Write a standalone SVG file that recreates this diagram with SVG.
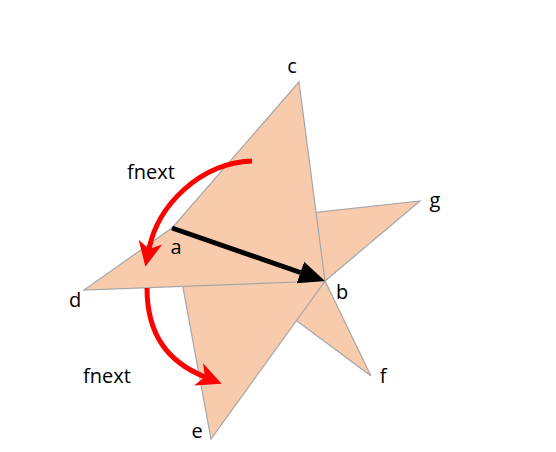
<svg xmlns="http://www.w3.org/2000/svg" width="556" height="452" viewBox="0 0 556 452">
<style>
.face{fill:#F8CBAD;stroke:#A6A6A6;stroke-width:1.2;stroke-linejoin:miter}
.lbl{font-family:"Open Sans","Liberation Sans",Arial,sans-serif;font-size:20px;fill:#000;text-anchor:middle}
.red{fill:none;stroke:#FF0000;stroke-width:5}
</style>
<defs>
<marker id="redhead" viewBox="0 0 26 26" refX="7" refY="13" markerWidth="26" markerHeight="26" markerUnits="userSpaceOnUse" orient="auto">
<path d="M0,1 L25,13 L0,25 L7,13 Z" fill="#FF0000"/>
</marker>
<marker id="blackhead" viewBox="0 0 26 24" refX="0" refY="12" markerWidth="26" markerHeight="24" markerUnits="userSpaceOnUse" orient="auto">
<path d="M0,0.5 L26,12 L0,23.5 Z" fill="#000"/>
</marker>
</defs>
<g id="face-abf"><polygon class="face" points="172,228 325,281 371,376"/></g>
<g id="face-abg"><polygon class="face" points="172,228 325,281 420,201"/></g>
<g id="face-abe"><polygon class="face" points="172,228 325,281 211,439"/></g>
<g id="face-abc"><polygon class="face" points="172,228 325,281 299,82"/></g>
<g id="face-abd"><polygon class="face" points="172,228 325,281 84,290"/></g>
<g id="connectors">
<line x1="172" y1="228" x2="300.4" y2="272.5" stroke="#000" stroke-width="5" marker-end="url(#blackhead)"/>
<path class="red" d="M252,161 C200,163 158,205 149,249" marker-end="url(#redhead)"/>
<path class="red" d="M147,288 C147,335 168,362 205,377" marker-end="url(#redhead)"/>
</g>
<g id="labels">
<text class="lbl" x="151" y="179">fnext</text>
<text class="lbl" x="292" y="73">c</text>
<text class="lbl" x="176" y="254">a</text>
<text class="lbl" x="435" y="207">g</text>
<text class="lbl" x="75" y="307">d</text>
<text class="lbl" x="342" y="299">b</text>
<text class="lbl" x="107" y="383">fnext</text>
<text class="lbl" x="383" y="383">f</text>
<text class="lbl" x="197" y="438">e</text>
</g>
</svg>
